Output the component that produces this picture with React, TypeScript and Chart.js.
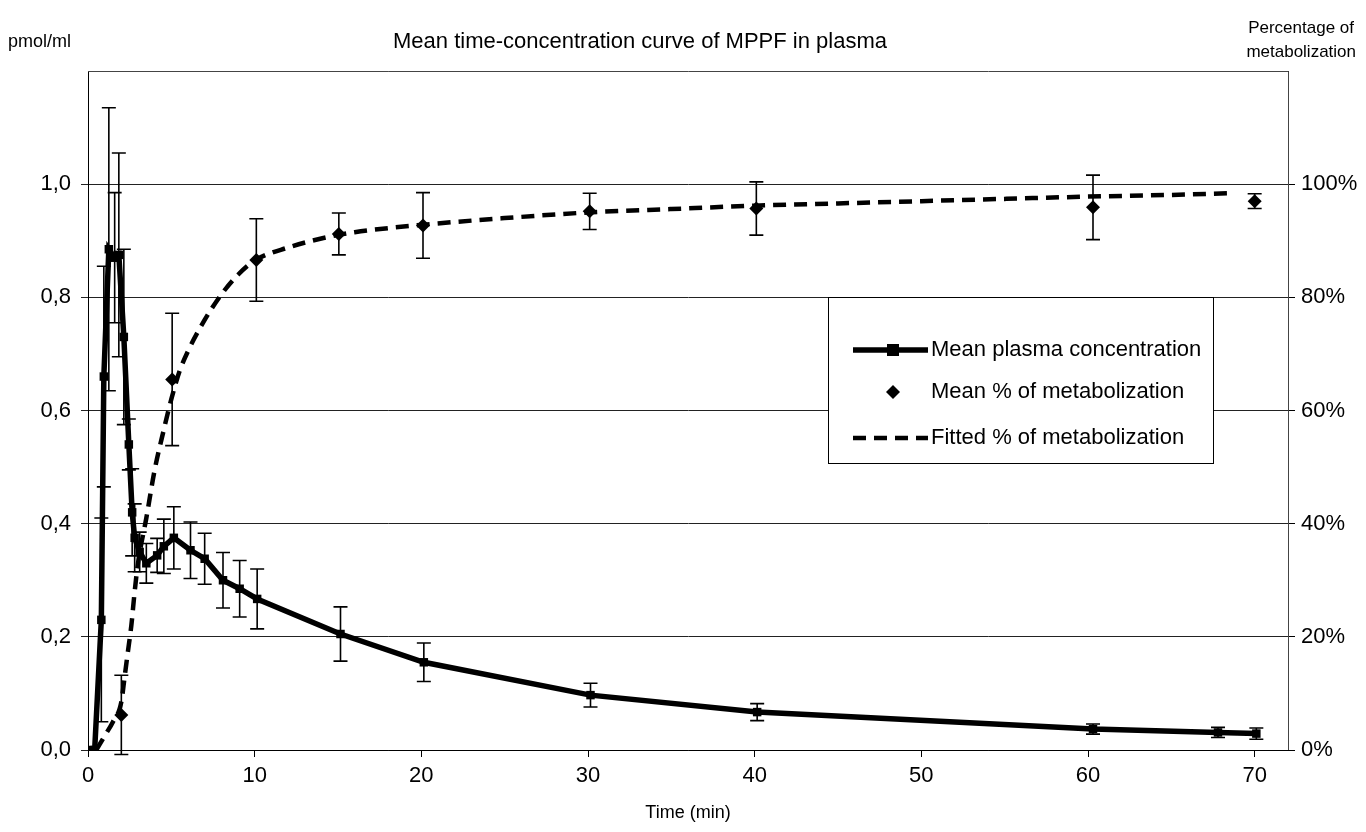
import React, { useEffect, useRef } from "react";
import { Chart, registerables } from "chart.js";
Chart.register(...registerables);

// ---- Data ----
const concTime = [0, 0.4, 0.8, 0.95, 1.25, 1.6, 1.85, 2.15, 2.45, 2.65, 2.8, 3.1, 3.5, 4.15, 4.55, 5.15, 6.15, 7.0, 8.1, 9.1, 10.15, 15.15, 20.15, 30.15, 40.15, 60.3, 67.8, 70.1];
const concMean = [0, 0, 0.23, 0.66, 0.885, 0.87, 0.875, 0.73, 0.54, 0.42, 0.375, 0.35, 0.33, 0.344, 0.36, 0.375, 0.353, 0.338, 0.3, 0.285, 0.267, 0.205, 0.155, 0.097, 0.067, 0.037, 0.031, 0.029];
const concSd = [0, 0, 0.18, 0.195, 0.25, 0.115, 0.18, 0.155, 0.045, 0.077, 0.06, 0.035, 0.035, 0.03, 0.048, 0.055, 0.05, 0.045, 0.049, 0.05, 0.053, 0.048, 0.034, 0.021, 0.015, 0.009, 0.009, 0.01];

const metTime = [2, 5.05, 10.1, 15.05, 20.1, 30.1, 40.1, 60.3, 70.0];
const metMean = [6.2, 65.5, 86.6, 91.2, 92.7, 95.2, 95.7, 95.9, 97.0];
const metSd = [7, 11.7, 7.3, 3.7, 5.8, 3.2, 4.7, 5.7, 1.3];

const fitTime = [0.5, 1.0, 1.5, 2.0, 2.2, 2.4, 2.6, 2.8, 3.0, 3.5, 4.0, 4.5, 5.0, 5.5, 6, 7, 8, 9, 10, 12, 14, 16, 20, 25, 30, 35, 40, 45, 50, 55, 60, 65, 68.5];
const fitPct = [0, 2.5, 5, 8.5, 13, 17.5, 22, 28, 33, 41, 49.5, 56, 62, 67, 70.5, 76, 80.5, 84, 86.5, 88.8, 90.4, 91.5, 92.8, 94, 95, 95.6, 96.2, 96.6, 97, 97.4, 97.8, 98.1, 98.4];

const xTicks = [0, 10, 20, 30, 40, 50, 60, 70];
const leftTicks = [0, 0.2, 0.4, 0.6, 0.8, 1.0];
const rightTicks = [0, 20, 40, 60, 80, 100];

const LABEL_CONC = "Mean plasma concentration";
const LABEL_MET = "Mean % of metabolization";
const LABEL_FIT = "Fitted % of metabolization";
const TITLE = "Mean time-concentration curve of MPPF in plasma";
const Y_UNIT = "pmol/ml";
const Y2_UNIT = ["Percentage of", "metabolization"];
const X_TITLE = "Time (min)";

const FONT = "'Liberation Sans', Arial, sans-serif";

export default function App() {
  const ref = useRef<HTMLCanvasElement>(null);

  useEffect(() => {
    const canvas = ref.current;
    if (!canvas) return;

    const errorBars = {
      id: "errorBars",
      afterDatasetsDraw(chart: any) {
        const c = chart.ctx;
        const xs = chart.scales.x;
        const draw = (ts: number[], ms: number[], sds: number[], ys: any) => {
          c.save();
          c.strokeStyle = "#000";
          c.lineWidth = 1.6;
          for (let i = 0; i < ts.length; i++) {
            if (!sds[i]) continue;
            const x = xs.getPixelForValue(ts[i]);
            const yt = ys.getPixelForValue(ms[i] + sds[i]);
            const yb = ys.getPixelForValue(ms[i] - sds[i]);
            c.beginPath();
            c.moveTo(x, yt);
            c.lineTo(x, yb);
            c.moveTo(x - 7, yt);
            c.lineTo(x + 7, yt);
            c.moveTo(x - 7, yb);
            c.lineTo(x + 7, yb);
            c.stroke();
          }
          c.restore();
        };
        draw(concTime, concMean, concSd, chart.scales.y);
        draw(metTime, metMean, metSd, chart.scales.y1);
      },
    };

    const decor = {
      id: "decor",
      afterDraw(chart: any) {
        const c = chart.ctx;
        const a = chart.chartArea;
        c.save();
        // frame (top and right)
        c.strokeStyle = "#444";
        c.lineWidth = 1;
        c.beginPath();
        c.moveTo(a.left, a.top + 0.5);
        c.lineTo(a.right + 0.5, a.top + 0.5);
        c.lineTo(a.right + 0.5, a.bottom);
        c.stroke();

        // header texts
        c.fillStyle = "#000";
        c.textBaseline = "middle";
        c.font = `18px ${FONT}`;
        c.textAlign = "left";
        c.fillText(Y_UNIT, 8, 42);
        c.font = `22px ${FONT}`;
        c.textAlign = "center";
        c.fillText(TITLE, 640, 42);
        c.font = `17px ${FONT}`;
        c.textAlign = "right";
        c.fillText(Y2_UNIT[0], 1354, 28);
        c.fillText(Y2_UNIT[1], 1356, 52);

        // legend
        const lx = 828, ly = 297, lw = 385, lh = 166;
        c.fillStyle = "#fff";
        c.fillRect(lx, ly, lw, lh);
        c.strokeStyle = "#000";
        c.lineWidth = 1;
        c.strokeRect(lx + 0.5, ly + 0.5, lw, lh);
        const ds = chart.data.datasets;
        const rows = [350, 392, 438];
        c.font = `22px ${FONT}`;
        c.textAlign = "left";
        c.fillStyle = "#000";
        // row 1: line + square
        c.strokeStyle = "#000";
        c.lineWidth = 5.5;
        c.beginPath();
        c.moveTo(853, rows[0]);
        c.lineTo(928, rows[0]);
        c.stroke();
        c.fillRect(893 - 6, rows[0] - 6, 12, 12);
        c.fillText(ds[0].label, 931, rows[0]);
        // row 2: diamond
        c.beginPath();
        c.moveTo(893, rows[1] - 7);
        c.lineTo(900, rows[1]);
        c.lineTo(893, rows[1] + 7);
        c.lineTo(886, rows[1]);
        c.closePath();
        c.fill();
        c.fillText(ds[1].label, 931, rows[1]);
        // row 3: dashed
        c.lineWidth = 4.5;
        c.setLineDash([13, 8]);
        c.beginPath();
        c.moveTo(853, rows[2]);
        c.lineTo(928, rows[2]);
        c.stroke();
        c.setLineDash([]);
        c.fillText(ds[2].label, 931, rows[2]);
        c.restore();
      },
    };

    const tickFont = { family: FONT, size: 22 };

    const chart = new Chart(canvas, {
      type: "line",
      data: {
        datasets: [
          {
            label: LABEL_CONC,
            data: concTime.map((t, i) => ({ x: t, y: concMean[i] })),
            yAxisID: "y",
            borderColor: "#000",
            backgroundColor: "#000",
            borderWidth: 5.5,
            pointStyle: "rect",
            pointRadius: 6,
            pointBorderWidth: 0,
            tension: 0,
          },
          {
            label: LABEL_MET,
            data: metTime.map((t, i) => ({ x: t, y: metMean[i] })),
            yAxisID: "y1",
            showLine: false,
            borderColor: "#000",
            backgroundColor: "#000",
            pointStyle: "rectRot",
            pointRadius: 7,
            pointBorderWidth: 0,
          },
          {
            label: LABEL_FIT,
            data: fitTime.map((t, i) => ({ x: t, y: fitPct[i] })),
            yAxisID: "y1",
            borderColor: "#000",
            borderWidth: 4.5,
            borderDash: [13, 8],
            pointRadius: 0,
            cubicInterpolationMode: "monotone",
          },
        ],
      },
      options: {
        animation: false,
        responsive: true,
        maintainAspectRatio: false,
        layout: { padding: { top: 71, left: 0, right: 0, bottom: 0 } },
        plugins: {
          legend: { display: false },
          title: { display: false },
          tooltip: { enabled: false },
        },
        scales: {
          x: {
            type: "linear",
            min: 0,
            max: 72,
            afterBuildTicks: (s: any) => {
              s.ticks = xTicks.map((v) => ({ value: v }));
            },
            afterFit: (s: any) => {
              s.height = 82;
            },
            ticks: { color: "#000", font: tickFont, padding: 6 },
            grid: { drawOnChartArea: false, drawTicks: true, tickLength: 7, color: "#000" },
            border: { color: "#000", width: 1 },
            title: { display: true, text: X_TITLE, color: "#000", font: { family: FONT, size: 18 }, padding: { top: 0, bottom: 8 } },
          },
          y: {
            type: "linear",
            position: "left",
            min: 0,
            max: 1.2,
            afterBuildTicks: (s: any) => {
              s.ticks = leftTicks.map((v) => ({ value: v }));
            },
            afterFit: (s: any) => {
              s.width = 88;
            },
            ticks: {
              color: "#000",
              font: tickFont,
              padding: 10,
              callback: (v: any) => Number(v).toFixed(1).replace(".", ","),
            },
            grid: { color: "#222", lineWidth: 1, tickLength: 7 },
            border: { color: "#000", width: 1 },
          },
          y1: {
            type: "linear",
            position: "right",
            min: 0,
            max: 120,
            afterBuildTicks: (s: any) => {
              s.ticks = rightTicks.map((v) => ({ value: v }));
            },
            afterFit: (s: any) => {
              s.width = 78;
            },
            ticks: { color: "#000", font: tickFont, padding: 6, callback: (v: any) => `${v}%` },
            grid: { drawOnChartArea: false, tickLength: 7, color: "#000" },
            border: { color: "#000", width: 1 },
          },
        },
      },
      plugins: [errorBars, decor],
    } as any);

    return () => chart.destroy();
  }, []);

  return (
    <div style={{ position: "absolute", left: 0, top: 0, width: 1366, height: 832, background: "#fff" }}>
      <canvas ref={ref} />
    </div>
  );
}
